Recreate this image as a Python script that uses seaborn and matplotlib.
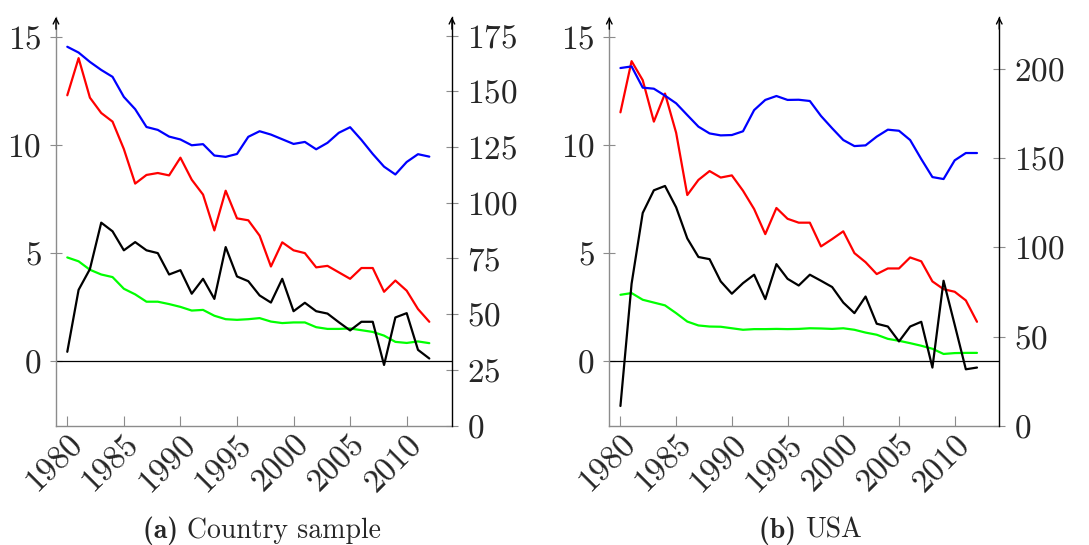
import matplotlib.pyplot as plt
import pandas as pd
import seaborn as sns

years = list(range(1980, 2013))

# (a) Country sample -- blue on the right axis, the rest on the left axis
sample_blue = [170.0, 167.4, 163.2, 159.6, 156.5, 147.5, 142.0, 134.0, 132.7, 129.7,
               128.4, 125.8, 126.3, 121.2, 120.6, 121.9, 129.6, 132.1, 130.6, 128.5,
               126.4, 127.3, 124.0, 126.9, 131.4, 133.9, 128.2, 121.9, 116.2, 112.7,
               118.3, 121.8, 120.7]
sample_red = [12.30, 14.02, 12.19, 11.48, 11.08, 9.81, 8.21, 8.61, 8.70, 8.59,
              9.41, 8.39, 7.70, 6.04, 7.88, 6.60, 6.51, 5.80, 4.37, 5.49,
              5.12, 4.99, 4.33, 4.40, 4.10, 3.80, 4.30, 4.30, 3.20, 3.72,
              3.25, 2.40, 1.81]
sample_green = [4.79, 4.61, 4.22, 4.00, 3.88, 3.34, 3.08, 2.74, 2.74, 2.63,
                2.50, 2.33, 2.36, 2.09, 1.93, 1.90, 1.93, 1.98, 1.82, 1.75,
                1.78, 1.78, 1.56, 1.48, 1.48, 1.50, 1.42, 1.34, 1.17, 0.88,
                0.83, 0.90, 0.82]
sample_black = [0.42, 3.29, 4.25, 6.40, 6.00, 5.12, 5.50, 5.12, 4.99, 4.00,
                4.20, 3.11, 3.80, 2.87, 5.27, 3.91, 3.69, 3.03, 2.70, 3.80,
                2.30, 2.69, 2.30, 2.19, 1.79, 1.41, 1.81, 1.81, -0.19, 2.01,
                2.21, 0.51, 0.11]

# (b) USA
usa_blue = [200.7, 201.6, 189.7, 189.1, 185.2, 180.9, 174.3, 167.8, 164.0, 162.9,
            163.1, 165.2, 177.1, 182.8, 185.0, 182.8, 182.9, 182.2, 173.8, 166.9,
            160.3, 156.9, 157.3, 162.2, 166.1, 165.5, 160.3, 149.6, 139.5, 138.4,
            148.9, 153.0, 153.0]
usa_red = [11.51, 13.88, 13.00, 11.08, 12.38, 10.56, 7.68, 8.38, 8.79, 8.49,
           8.59, 7.88, 7.03, 5.87, 7.08, 6.58, 6.40, 6.40, 5.30, 5.64,
           6.00, 4.99, 4.57, 4.02, 4.28, 4.28, 4.79, 4.61, 3.68, 3.32,
           3.20, 2.80, 1.81]
usa_green = [3.06, 3.14, 2.83, 2.70, 2.57, 2.21, 1.82, 1.64, 1.59, 1.58,
             1.51, 1.44, 1.47, 1.47, 1.48, 1.47, 1.48, 1.51, 1.50, 1.48,
             1.51, 1.44, 1.31, 1.21, 1.02, 0.93, 0.82, 0.70, 0.56, 0.32,
             0.36, 0.37, 0.37]
usa_black = [-2.09, 3.57, 6.85, 7.90, 8.10, 7.11, 5.67, 4.81, 4.71, 3.68,
             3.11, 3.60, 3.99, 2.86, 4.48, 3.80, 3.49, 3.99, 3.71, 3.42,
             2.70, 2.21, 2.98, 1.72, 1.59, 0.90, 1.59, 1.81, -0.31, 3.71,
             1.67, -0.39, -0.31]

left_ticks = [0, 5, 10, 15]
x_ticks = [1980, 1985, 1990, 1995, 2000, 2005, 2010]

panels = [
    dict(tag="(a)", title="Country sample", rect=[0.0514, 0.219, 0.3636, 0.750],
         split=0.1717,
         blue=sample_blue, red=sample_red, green=sample_green, black=sample_black,
         right_max=183.4, right_ticks=[0, 25, 50, 75, 100, 125, 150, 175]),
    dict(tag="(b)", title="USA", rect=[0.5595, 0.219, 0.3581, 0.750],
         split=0.739,
         blue=usa_blue, red=usa_red, green=usa_green, black=usa_black,
         right_max=229.4, right_ticks=[0, 50, 100, 150, 200]),
]

sns.set_style("white")
plt.rcParams["font.family"] = ["cmr10", "DejaVu Serif"]
plt.rcParams["axes.formatter.use_mathtext"] = True

fig = plt.figure(figsize=(10.89, 5.45), dpi=100)
grey = "#8c8c8c"
tick_size = 24

for p in panels:
    df = pd.DataFrame({"year": years, "blue": p["blue"], "red": p["red"],
                       "green": p["green"], "black": p["black"]})
    ax = fig.add_axes(p["rect"])
    ax2 = ax.twinx()

    ax.axhline(0, color="black", lw=0.9, zorder=1)
    sns.lineplot(data=df, x="year", y="red", color="#ff0000", lw=1.6, ax=ax)
    sns.lineplot(data=df, x="year", y="green", color="#00ff00", lw=1.6, ax=ax)
    sns.lineplot(data=df, x="year", y="black", color="black", lw=1.6, ax=ax)
    sns.lineplot(data=df, x="year", y="blue", color="#0000ff", lw=1.6, ax=ax2)

    ax.set_xlim(1979, 2014)
    ax.set_ylim(-3, 15.93)
    ax2.set_ylim(0, p["right_max"])
    ax.set_xlabel("")
    ax.set_ylabel("")
    ax2.set_ylabel("")
    ax.set_xticks(x_ticks)
    ax.set_xticklabels([str(x) for x in x_ticks], rotation=45, ha="right",
                       rotation_mode="anchor")
    ax.set_yticks(left_ticks)
    ax2.set_yticks(p["right_ticks"])

    for a in (ax, ax2):
        for s in a.spines.values():
            s.set_visible(False)
    ax.spines["left"].set_visible(True)
    ax.spines["left"].set_color(grey)
    ax.spines["bottom"].set_visible(True)
    ax.spines["bottom"].set_color(grey)
    ax2.spines["right"].set_visible(True)
    ax2.spines["right"].set_color("black")
    for s in ("left", "bottom"):
        ax.spines[s].set_linewidth(1.0)
    ax2.spines["right"].set_linewidth(1.0)

    ax.tick_params(axis="y", direction="inout", length=9, width=0.8, color=grey,
                   pad=6, labelsize=tick_size, left=True)
    ax.tick_params(axis="x", direction="in", length=7, width=0.8, color=grey,
                   pad=3, labelsize=tick_size, bottom=True)
    ax2.tick_params(axis="y", direction="inout", length=9, width=0.8, color=grey,
                    pad=6, labelsize=tick_size, right=True)

    # arrow heads on the y axes
    for xpos in (0, 1):
        ax.annotate("", xy=(xpos, 1.0), xytext=(xpos, 0.97), xycoords="axes fraction",
                    arrowprops=dict(arrowstyle="->", color="black", lw=1.0,
                                    shrinkA=0, shrinkB=0, mutation_scale=10))

    fig.text(p["split"], 0.027, p["tag"] + " ", ha="right", va="center", fontsize=20,
             family=["cmb10", "DejaVu Serif"], fontweight="bold")
    fig.text(p["split"], 0.027, p["title"], ha="left", va="center", fontsize=20)

fig.savefig("out.png", dpi=100)
